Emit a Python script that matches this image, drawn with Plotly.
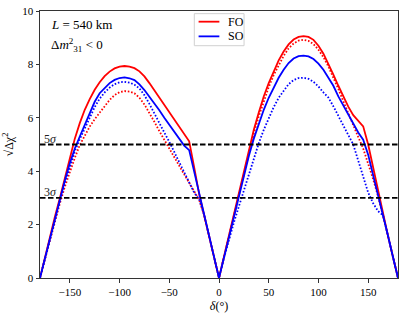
import plotly.graph_objects as go

delta = list(range(-180, 181, 5))

fo_true = [0, 0.78, 1.55, 2.3, 3.0, 3.75, 4.5, 5.22, 5.8, 6.3, 6.7, 7.05, 7.33, 7.56, 7.73, 7.85, 7.92, 7.94,
           7.92, 7.86, 7.74, 7.55, 7.3, 7.03, 6.77, 6.5, 6.2, 5.93, 5.65, 5.38, 5.12, 4.15, 3.15, 2.36, 1.58, 0.79,
           0,
           0.8, 1.6, 2.4, 3.2, 3.99, 4.8, 5.55, 6.2, 6.8, 7.3, 7.75, 8.15, 8.48, 8.75, 8.93, 9.03, 9.06,
           9.03, 8.92, 8.7, 8.4, 8.03, 7.62, 7.2, 6.8, 6.42, 6.1, 5.88, 5.68, 5.0, 4.15, 3.2, 2.35, 1.57, 0.78, 0]
fo_dot = [0, 0.72, 1.42, 2.1, 2.8, 3.42, 3.98, 4.5, 4.98, 5.35, 5.67, 5.95, 6.2, 6.45, 6.67, 6.85, 6.96, 7.0,
          6.98, 6.92, 6.75, 6.5, 6.2, 5.85, 5.5, 5.17, 4.83, 4.52, 4.2, 3.88, 3.57, 3.26, 2.93, 2.36, 1.58, 0.79,
          0,
          0.79, 1.58, 2.37, 3.15, 3.93, 4.7, 5.42, 6.05, 6.63, 7.15, 7.6, 7.98, 8.32, 8.6, 8.78, 8.89, 8.92,
          8.88, 8.76, 8.55, 8.27, 7.92, 7.52, 7.08, 6.62, 6.15, 5.7, 5.28, 4.85, 4.3, 3.7, 3.05, 2.35, 1.57, 0.78, 0]
so_true = [0, 0.75, 1.5, 2.25, 2.95, 3.65, 4.3, 4.85, 5.3, 5.75, 6.15, 6.6, 6.92, 7.12, 7.3, 7.42, 7.49, 7.51,
           7.48, 7.41, 7.25, 7.04, 6.8, 6.55, 6.28, 6.0, 5.75, 5.5, 5.22, 4.96, 4.79, 3.97, 3.15, 2.36, 1.58, 0.79,
           0,
           0.78, 1.56, 2.34, 3.1, 3.85, 4.57, 5.22, 5.8, 6.3, 6.75, 7.15, 7.5, 7.8, 8.05, 8.22, 8.31, 8.33,
           8.3, 8.2, 8.03, 7.8, 7.52, 7.2, 6.8, 6.45, 6.1, 5.78, 5.45, 5.18, 4.62, 3.85, 3.12, 2.35, 1.57, 0.78, 0]
so_dot = [0, 0.74, 1.47, 2.2, 2.9, 3.57, 4.2, 4.75, 5.2, 5.62, 6.0, 6.4, 6.72, 6.95, 7.13, 7.26, 7.33, 7.35,
          7.32, 7.24, 7.1, 6.85, 6.52, 6.18, 5.82, 5.45, 5.1, 4.72, 4.3, 3.9, 3.52, 3.2, 2.95, 2.36, 1.58, 0.79,
          0,
          0.75, 1.45, 2.08, 2.68, 3.28, 3.9, 4.5, 5.05, 5.55, 6.0, 6.4, 6.75, 7.03, 7.26, 7.41, 7.49, 7.5,
          7.46, 7.35, 7.17, 6.95, 6.76, 6.43, 6.08, 5.72, 5.36, 5.0, 4.4, 3.8, 3.2, 2.8, 2.5, 2.35, 1.57, 0.78, 0]

sigma_levels = [3, 5]
sigma_labels = ["3<i>σ</i>", "5<i>σ</i>"]
xticks = [-150, -100, -50, 0, 50, 100, 150]
xtick_text = ["−150", "−100", "−50", "0", "50", "100", "150"]
yticks = [0, 2, 4, 6, 8, 10]
legend_names = ["FO", "SO"]

RED = "#ff0000"
BLUE = "#0000ff"
FONT = "Liberation Serif"
DOT = "1.6px,1.8px"

fig = go.Figure()
fig.add_trace(go.Scatter(x=delta, y=fo_true, mode="lines", name="FO",
                         line=dict(color=RED, width=1.8)))
fig.add_trace(go.Scatter(x=delta, y=fo_dot, mode="lines", name="FO dotted",
                         line=dict(color=RED, width=1.8, dash=DOT)))
fig.add_trace(go.Scatter(x=delta, y=so_true, mode="lines", name="SO",
                         line=dict(color=BLUE, width=1.8)))
fig.add_trace(go.Scatter(x=delta, y=so_dot, mode="lines", name="SO dotted",
                         line=dict(color=BLUE, width=1.8, dash=DOT)))

for lvl, lab in zip(sigma_levels, sigma_labels):
    fig.add_shape(type="line", xref="x", yref="y", x0=-180, x1=180, y0=lvl, y1=lvl,
                  line=dict(color="black", width=1.8, dash="5.5px,2.5px"), layer="above")
    fig.add_annotation(x=-178, y=lvl, xref="x", yref="y", text=lab, showarrow=False,
                       xanchor="left", yanchor="bottom", yshift=-3,
                       font=dict(family=FONT, size=12, color="#222"))

fig.add_annotation(x=0.025, y=0.985, xref="paper", yref="paper",
                   text="<i>L</i> = 540 km", showarrow=False, xanchor="left", yanchor="top",
                   font=dict(family=FONT, size=13, color="black"))
fig.add_annotation(x=0.025, y=0.915, xref="paper", yref="paper",
                   text="Δ<i>m</i><sup>2</sup><sub>31</sub> < 0", showarrow=False,
                   xanchor="left", yanchor="top",
                   font=dict(family=FONT, size=13, color="black"))

# custom legend box (paper coords)
lx0, lx1, ly0, ly1 = 0.431, 0.57, 0.87, 0.99
fig.add_shape(type="rect", xref="paper", yref="paper", x0=lx0, x1=lx1, y0=ly0, y1=ly1,
              line=dict(color="#d0d0d0", width=1), fillcolor="rgba(255,255,255,0.85)", layer="above")
for i, (nm, col) in enumerate(zip(legend_names, [RED, BLUE])):
    yy = 0.96 - i * 0.055
    fig.add_shape(type="line", xref="paper", yref="paper", x0=lx0 + 0.012, x1=lx0 + 0.07,
                  y0=yy, y1=yy, line=dict(color=col, width=1.8), layer="above")
    fig.add_annotation(x=lx0 + 0.088, y=yy, xref="paper", yref="paper", text=nm,
                       showarrow=False, xanchor="left", yanchor="middle",
                       font=dict(family=FONT, size=12, color="black"))

fig.update_layout(
    width=409, height=315,
    margin=dict(l=40, r=11, t=11, b=37),
    paper_bgcolor="white", plot_bgcolor="white",
    font=dict(family=FONT, size=11, color="black"),
    showlegend=False,
    xaxis=dict(range=[-180, 180], tickvals=xticks, ticktext=xtick_text, automargin=False,
               showgrid=False, zeroline=False, showline=True, linecolor="#333", linewidth=1,
               mirror=True, ticks="outside", ticklen=3.5, tickcolor="#333",
               tickfont=dict(family=FONT, size=11), ticklabeloverflow="allow",
               title=dict(text="<i>δ</i>(°)", standoff=4, font=dict(family=FONT, size=12))),
    yaxis=dict(range=[0, 10], tickvals=yticks, automargin=False,
               showgrid=False, zeroline=False, showline=True, linecolor="#333", linewidth=1,
               mirror=True, ticks="outside", ticklen=3.5, tickcolor="#333",
               tickfont=dict(family=FONT, size=11), ticklabeloverflow="allow",
               title=dict(text="√Δχ<sup>2</sup>", standoff=6, font=dict(family=FONT, size=12))),
)

fig.write_html("out.html", config={"displayModeBar": False},
               post_script="document.body.style.margin='0';document.body.style.overflow='hidden';")
